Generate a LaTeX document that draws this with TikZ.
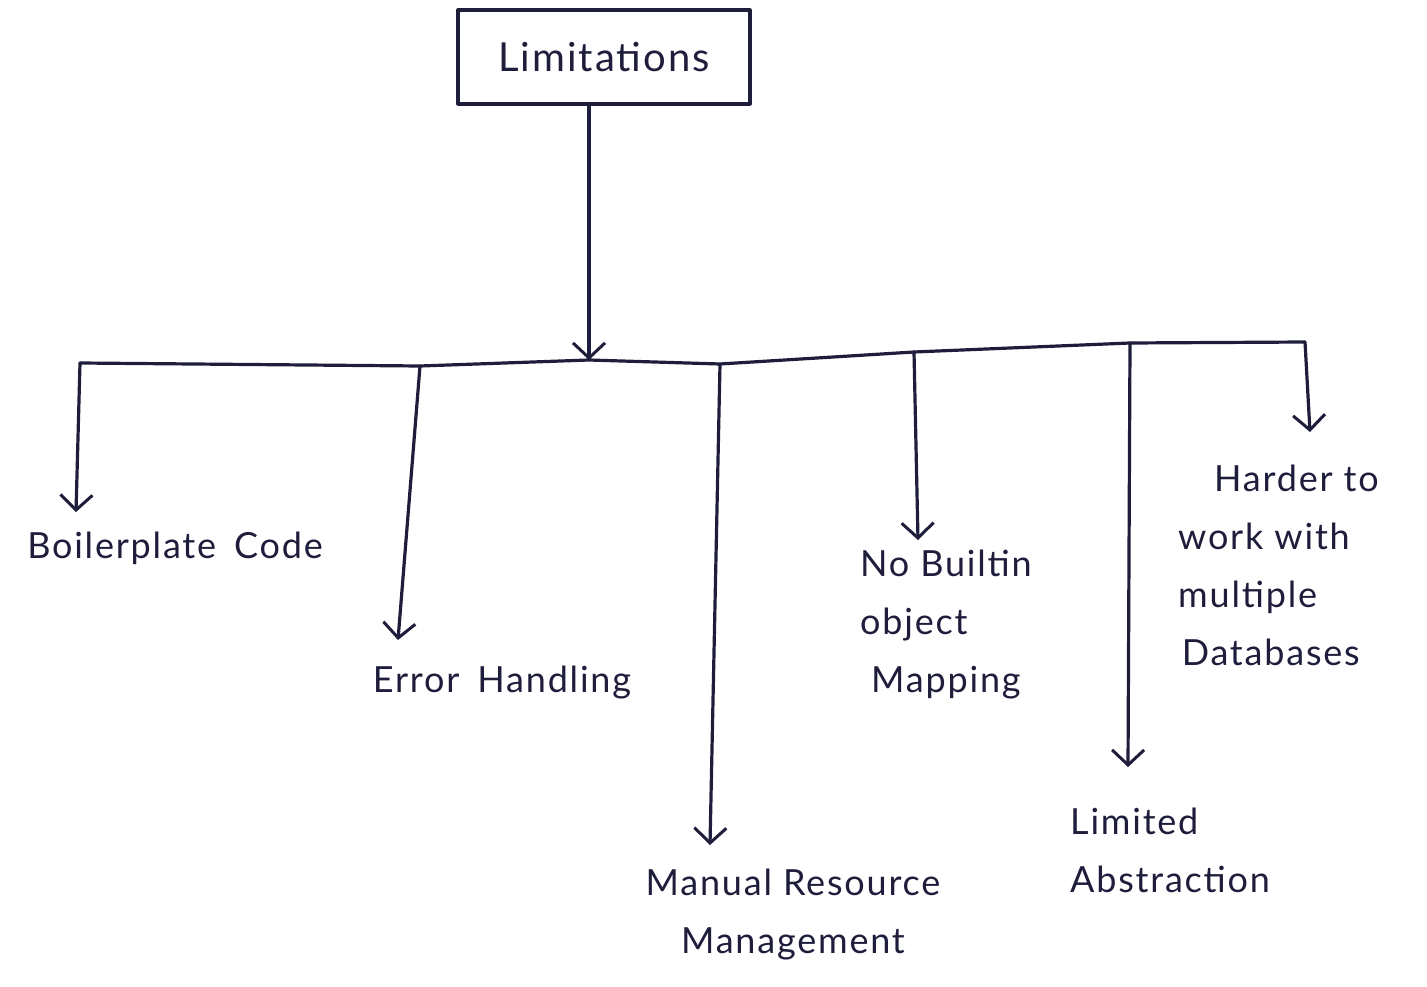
\documentclass[tikz,border=0pt]{standalone}
\usepackage{fontspec}
\setmainfont{Lato}
\usetikzlibrary{arrows.meta}
\definecolor{ink}{HTML}{1E1E3C}
\begin{document}
\begin{tikzpicture}[x=1pt,y=-1pt,
  ink/.style={draw=ink,line width=3.2pt,line cap=round,line join=round},
  arr/.style={ink,-{Straight Barb[length=15pt,width=32pt,line width=3pt]}},
  lbl/.style={text=ink,font=\fontsize{36}{58}\selectfont\addfontfeatures{LetterSpace=5},inner sep=0pt,align=center},
  box/.style={ink,rectangle,minimum width=292pt,minimum height=94pt,text=ink,font=\fontsize{40}{46}\selectfont\addfontfeatures{LetterSpace=5}}]
\useasboundingbox (0,0) rectangle (1427,987);
\node[box] (top) at (604,57) {Limitations};
% bus coordinates
\coordinate (bL) at (80,363);
\coordinate (bT) at (589,360);
\coordinate (b2) at (420,366);
\coordinate (b3) at (720,364);
\coordinate (b4) at (914,352);
\coordinate (b5) at (1130,343);
\coordinate (bR) at (1305,342);
\draw[ink] (bL) -- (b2) -- (bT) -- (b3) -- (b4) -- (b5) -- (bR);
\draw[arr] (top.south -| bT) -- (bT);
% arrow tips
\coordinate (t1) at (76,512);
\coordinate (t2) at (398,640);
\coordinate (t3) at (710,845);
\coordinate (t4) at (918,540);
\coordinate (t5) at (1128,767);
\coordinate (t6) at (1310,432);
\draw[arr] (bL) -- (t1);
\draw[arr] (b2) -- (t2);
\draw[arr] (b3) -- (t3);
\draw[arr] (b4) -- (t4);
\draw[arr] (b5) -- (t5);
\draw[arr] (bR) -- (t6);
% labels
\node[lbl] (l1) at (175,548) {Boilerplate\enspace Code};
\node[lbl] (l2) at (502,683) {Error\enspace Handling};
\node[lbl] (l3) at (793,915) {Manual Resource\\Management};
\node[lbl,align=left,anchor=west] (l4) at (860,625) {No Builtin\\object\\\ Mapping};
\node[lbl,align=left,anchor=west] (l5) at (1070,850) {Limited\\Abstraction};
\node[lbl,align=left,anchor=west] (l6) at (1178,565) {\hspace{1em}Harder to\\work with\\multiple\\\hspace{0.1em}Databases};
\end{tikzpicture}
\end{document}
